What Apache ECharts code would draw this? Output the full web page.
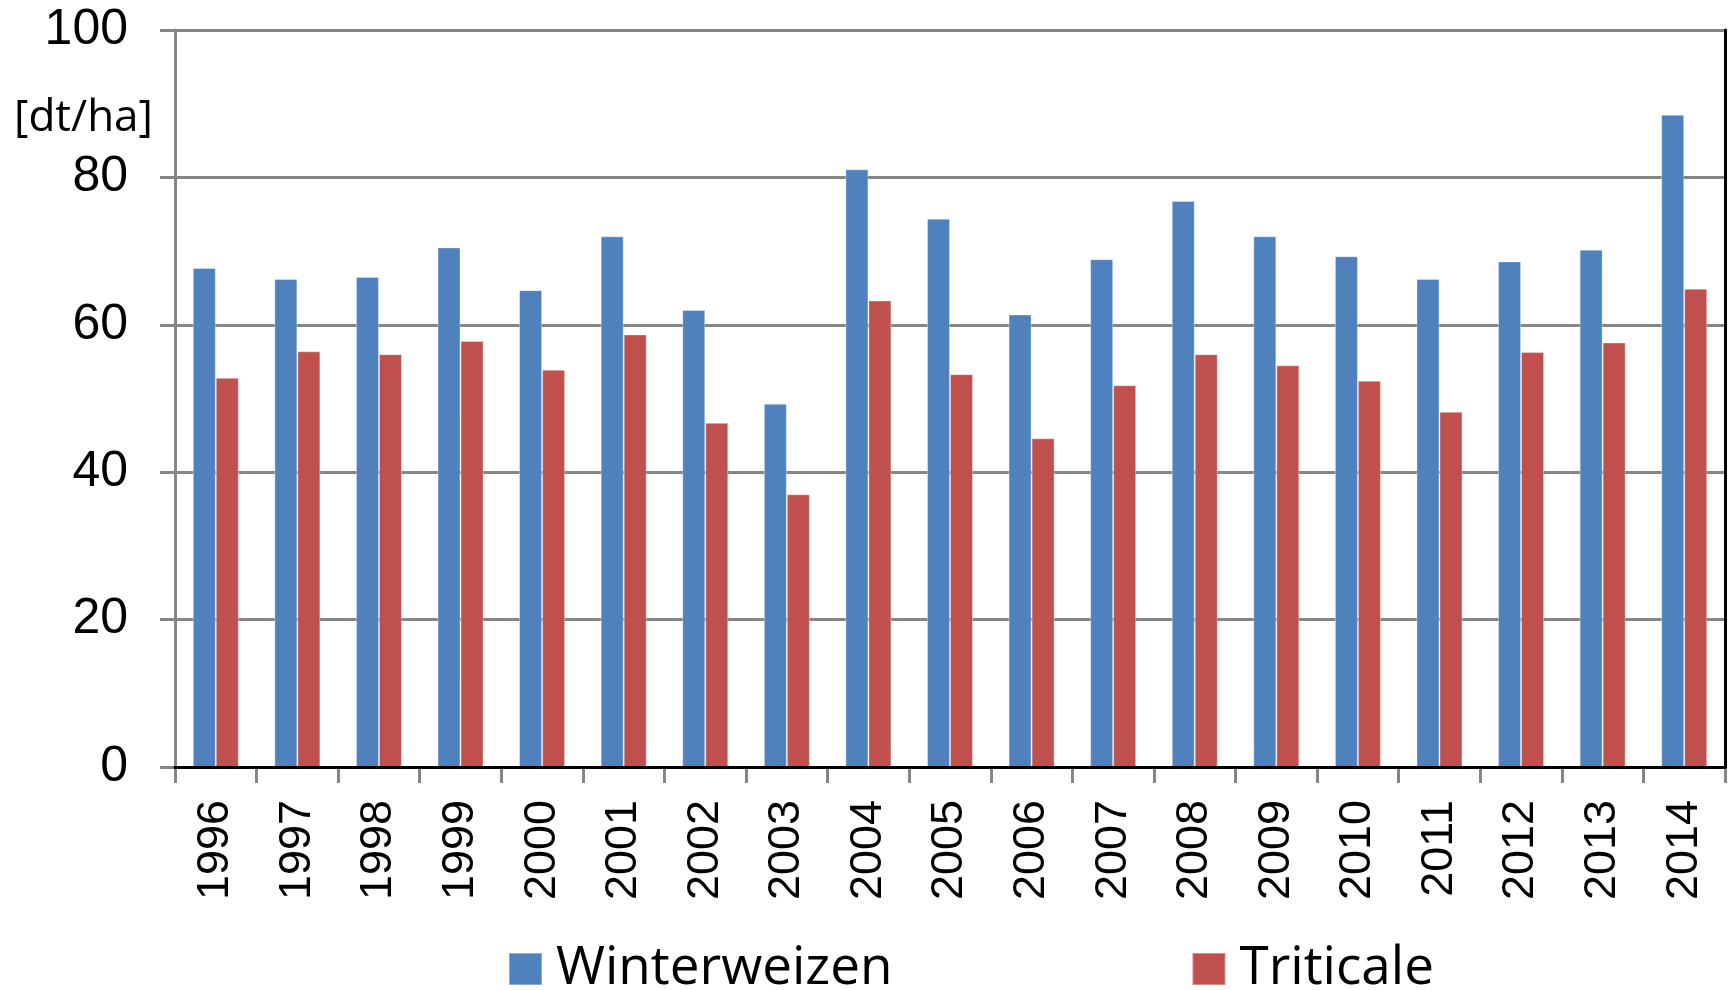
<!DOCTYPE html>
<html>
<head>
<meta charset="utf-8">
<script src="https://cdn.jsdelivr.net/npm/echarts@6/dist/echarts.min.js"></script>
<style>
html,body{margin:0;padding:0;background:#fff;}
#chart{width:1731px;height:990px;}
</style>
</head>
<body>
<div id="chart"></div>
<script>
var years = ['1996','1997','1998','1999','2000','2001','2002','2003','2004','2005','2006','2007','2008','2009','2010','2011','2012','2013','2014'];
var winterweizen = [67.7,66.2,66.5,70.5,64.7,72.0,62.0,49.3,81.1,74.4,61.4,68.9,76.8,72.0,69.3,66.2,68.6,70.2,88.5];
var triticale = [52.8,56.4,56.0,57.8,53.9,58.7,46.7,37.0,63.3,53.3,44.6,51.8,56.0,54.5,52.4,48.2,56.3,57.6,64.9];
var seriesNames = ['Winterweizen','Triticale'];
var unitLabel = '[dt/ha]';

var chart = echarts.init(document.getElementById('chart'), null, {renderer:'canvas'});
var grey = '#868686';
chart.setOption({
  animation: false,
  backgroundColor: '#ffffff',
  grid: {left:175, right:6, top:30, bottom:223, containLabel:false},
  legend: {
    data: seriesNames,
    left: 508,
    top: 941,
    padding: 0,
    icon: 'rect',
    itemWidth: 33,
    itemHeight: 32,
    itemGap: 299,
    textStyle: {fontFamily:'Open Sans', fontSize:53, color:'#000', padding:[0,0,0,9], lineHeight:56}
  },
  graphic: [{
    type:'text', left:14, top:96,
    style:{text:unitLabel, font:'44px "Open Sans"', fill:'#000'}
  }],
  xAxis: [{
    type:'category',
    data: years,
    axisLine:{show:true, lineStyle:{color:grey, width:3}},
    axisTick:{show:true, alignWithLabel:false, length:16, lineStyle:{color:grey, width:3}},
    axisLabel:{rotate:90, margin:33, fontFamily:'Liberation Sans', fontSize:45, color:'#000'}
  },{
    type:'category',
    position:'top',
    data: years,
    z: 5,
    axisLine:{show:true, lineStyle:{color:'#000', width:3}},
    axisTick:{show:false},
    axisLabel:{show:false}
  }],
  yAxis: [{
    type:'value',
    min:0, max:100, interval:20,
    axisLine:{show:true, lineStyle:{color:grey, width:3}},
    axisTick:{show:true, length:15, lineStyle:{color:grey, width:3}},
    axisLabel:{margin:47, fontFamily:'Liberation Sans', fontSize:50, color:'#000'},
    splitLine:{show:true, lineStyle:{color:grey, width:3}}
  },{
    type:'value',
    position:'right',
    min:0, max:100, interval:20,
    z: 5,
    axisLine:{show:true, lineStyle:{color:'#000', width:3}},
    axisTick:{show:false},
    axisLabel:{show:false},
    splitLine:{show:false}
  }],
  series: [{
    name: seriesNames[0],
    type:'bar',
    data: winterweizen,
    barWidth: 23,
    barGap: '0%',
    itemStyle:{color:'#4F81BD', borderColor:'rgba(255,255,255,0.35)', borderWidth:1}
  },{
    name: seriesNames[1],
    type:'bar',
    data: triticale,
    barWidth: 23,
    barGap: '0%',
    itemStyle:{color:'#C0504D', borderColor:'rgba(255,255,255,0.35)', borderWidth:1}
  }]
});
</script>
</body>
</html>
